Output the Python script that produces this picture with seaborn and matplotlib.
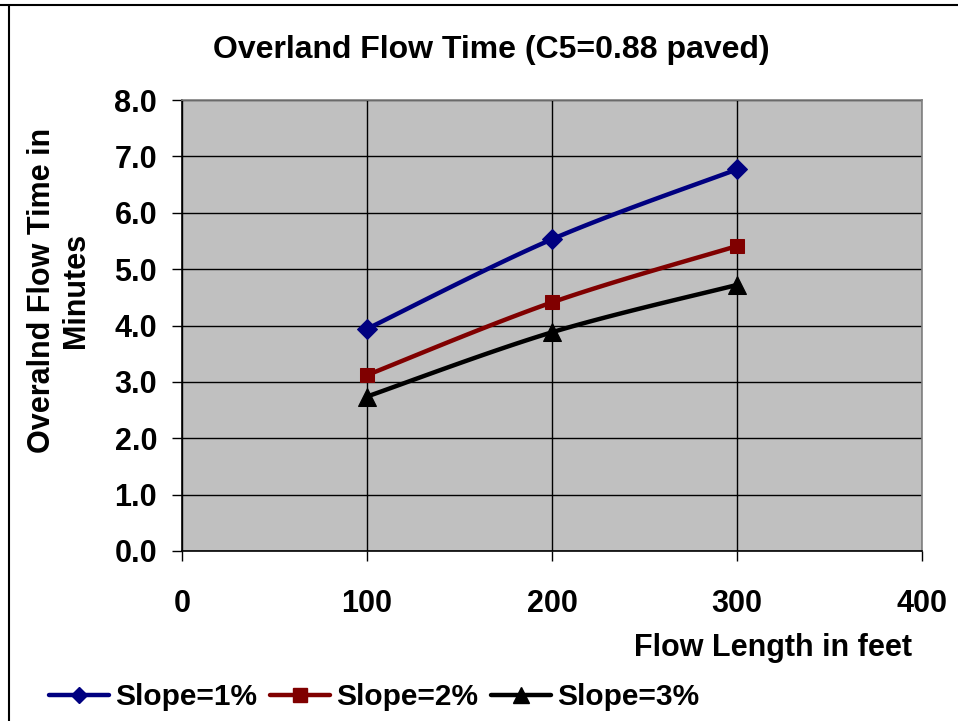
import numpy as np
import pandas as pd
import matplotlib
matplotlib.use("Agg")
import matplotlib.pyplot as plt
from matplotlib.lines import Line2D
import seaborn as sns

# ---- data ----
flow_length = [100, 200, 300]
slope_1 = [3.94, 5.53, 6.77]
slope_2 = [3.12, 4.41, 5.41]
slope_3 = [2.74, 3.88, 4.72]
series_names = ["Slope=1%", "Slope=2%", "Slope=3%"]
x_ticks = [0, 100, 200, 300, 400]
y_ticks = [0.0, 1.0, 2.0, 3.0, 4.0, 5.0, 6.0, 7.0, 8.0]

colors = ["#000080", "#800000", "#000000"]
markers = ["D", "s", "^"]
msizes = [10, 10, 13]

sns.set_theme(style="white")
plt.rcParams["font.family"] = ["Liberation Sans", "DejaVu Sans"]
plt.rcParams["font.weight"] = "bold"
plt.rcParams["text.color"] = "black"
plt.rcParams["xtick.color"] = "black"
plt.rcParams["ytick.color"] = "black"

FS_TICK = 22
FS_TITLE = 23
FS_LABEL = 22
FS_LEG = 21.5

def smooth(xs, ys, n=30):
    # Excel-style smoothed line (Catmull-Rom Bezier) through the data points
    xs = np.asarray(xs, float); ys = np.asarray(ys, float)
    P = np.column_stack([xs, ys])
    out = [P[0]]
    for i in range(len(P) - 1):
        p0 = P[i - 1] if i > 0 else P[i]
        p1, p2 = P[i], P[i + 1]
        p3 = P[i + 2] if i + 2 < len(P) else P[i + 1]
        c1 = p1 + (p2 - p0) / 6.0
        c2 = p2 - (p3 - p1) / 6.0
        t = np.linspace(0, 1, n)[1:, None]
        b = ((1 - t) ** 3) * p1 + 3 * ((1 - t) ** 2) * t * c1 + 3 * (1 - t) * t ** 2 * c2 + t ** 3 * p2
        out.extend(b)
    out = np.array(out)
    return out[:, 0], out[:, 1]

fig = plt.figure(figsize=(9.58, 7.21), dpi=100)
ax = fig.add_axes([182 / 958, 1 - 551 / 721, 740 / 958, 451 / 721])
ax.set_facecolor("#C0C0C0")

for name, ys, c, m, ms in zip(series_names, [slope_1, slope_2, slope_3], colors, markers, msizes):
    sx, sy = smooth(flow_length, ys)
    sns.lineplot(x=sx, y=sy, sort=False, color=c, linewidth=3.2, ax=ax, legend=False, zorder=3)
    df = pd.DataFrame({"x": flow_length, "y": ys})
    sns.lineplot(data=df, x="x", y="y", linestyle="", marker=m, markersize=ms,
                 color=c, markeredgecolor=c, ax=ax, legend=False, zorder=4)

ax.set_xlim(0, 400)
ax.set_ylim(0, 8)
ax.set_xticks(x_ticks)
ax.set_yticks(y_ticks)
ax.set_xticklabels([str(v) for v in x_ticks], fontsize=FS_TICK, fontweight="bold")
ax.set_yticklabels([f"{v:.1f}" for v in y_ticks], fontsize=FS_TICK, fontweight="bold")
ax.grid(True, color="black", linewidth=1.0)
ax.set_axisbelow(True)
for s in ["top", "right"]:
    ax.spines[s].set_color("#808080")
    ax.spines[s].set_linewidth(1.2)
for s in ["left", "bottom"]:
    ax.spines[s].set_color("black")
    ax.spines[s].set_linewidth(1.2)
ax.tick_params(axis="y", which="major", direction="out", length=7, width=1, color="black", pad=11, left=True)
ax.tick_params(axis="x", which="major", direction="out", length=7, width=1, color="black", pad=20, bottom=True)
ax.set_xlabel("")
ax.set_ylabel("")

fig.text(491 / 958, 1 - 50 / 721, "Overland Flow Time (C5=0.88 paved)", ha="center", va="center",
         fontsize=FS_TITLE, fontweight="bold")
fig.text(59 / 958, 1 - 290 / 721, "Overalnd Flow Time in\nMinutes", ha="center", va="center",
         rotation=90, fontsize=FS_LABEL, fontweight="bold", multialignment="center", linespacing=1.15)
fig.text(912 / 958, 1 - 648 / 721, "Flow Length in feet", ha="right", va="center",
         fontsize=FS_LABEL, fontweight="bold")

handles = [Line2D([], [], color=c, marker=m, markersize=ms, linewidth=3.2, markeredgecolor=c)
           for c, m, ms in zip(colors, markers, [8, 10, 12])]
fig.legend(handles, series_names, loc="center left", bbox_to_anchor=(49 / 958, 1 - 697 / 721),
           ncol=3, frameon=False, handlelength=2.0, handletextpad=0.2,
           columnspacing=0.45, borderaxespad=0, borderpad=0, prop={"weight": "bold", "size": FS_LEG})

# outer chart border (top and left visible)
fig.add_artist(Line2D([0, 1], [1 - 5 / 721, 1 - 5 / 721], transform=fig.transFigure, color="black", linewidth=1.5))
fig.add_artist(Line2D([9 / 958, 9 / 958], [0, 1 - 5 / 721], transform=fig.transFigure, color="black", linewidth=1.5))

fig.savefig("out.png", dpi=100)
